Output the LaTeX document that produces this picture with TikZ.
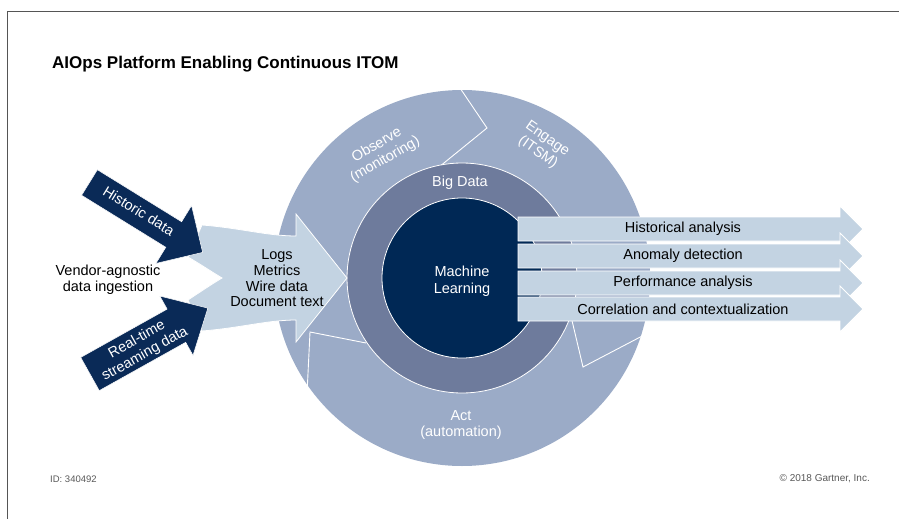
\documentclass[tikz,border=0pt]{standalone}
\usepackage{fontspec}
\setmainfont{Liberation Sans}
\definecolor{outerring}{HTML}{9BABC7}
\definecolor{midring}{HTML}{6E7B9C}
\definecolor{innerc}{HTML}{002855}
\definecolor{lightarr}{HTML}{C3D3E2}
\definecolor{darkarr}{HTML}{0A2A57}
\definecolor{framec}{HTML}{555555}
\definecolor{footc}{HTML}{595959}
\begin{document}
\begin{tikzpicture}[x=1pt,y=-1pt,
  lbl/.style={inner sep=0pt, align=center, font=\fontsize{14.5}{16}\selectfont},
  wlbl/.style={lbl, text=white},
  rlbl/.style={wlbl, font=\fontsize{14.5}{16.5}\selectfont},
  outarrow/.style={fill=lightarr, draw=white, line width=0.8pt},
  chevron/.style={draw=white, line width=0.9pt, line join=miter},
  foot/.style={inner sep=0pt, text=footc, font=\fontsize{9.5}{11}\selectfont}
]
\useasboundingbox (0,0) rectangle (899,519);
\fill[white] (0,0) rectangle (899,519);
% frame
\draw[framec, line width=1pt] (7,519) -- (7,12) -- (899,12);
% title
\node[inner sep=0pt, anchor=base west, font=\bfseries\fontsize{17}{20}\selectfont] (title) at (52,69) {AIOps Platform Enabling Continuous ITOM};

% outer ring
\fill[outerring] (462,278) circle[radius=188];
\draw[chevron] (460,88) -- (487,128) -- (439,167);
\draw[chevron] (646,334) -- (583,367) -- (567.6,302);
\draw[chevron] (307,394) -- (310,332) -- (366,343);
% middle ring and inner circle
\filldraw[fill=midring, draw=white, line width=0.8pt] (462,278) circle[radius=115];
\filldraw[fill=innerc, draw=white, line width=0.8pt] (462,278) circle[radius=80];

% ring labels
\node[rlbl, rotate=30] (observe) at (381,152.5) {Observe\\(monitoring)};
\node[rlbl, rotate=-35] (engage) at (542.5,146) {Engage\\(ITSM)};
\node[rlbl] (act) at (461,425) {Act\\(automation)};
\node[wlbl] (bigdata) at (460,183) {Big Data};
\node[rlbl] (ml) at (462,281) {Machine\\Learning};

% input light arrow
\filldraw[fill=lightarr, draw=white, line width=0.8pt]
  (202,225) .. controls (240,228) and (268,236) .. (296,236)
  -- (296,214) -- (347,278) -- (296,342) -- (296,320)
  .. controls (268,320) and (240,328) .. (202,331)
  -- (188,300) .. controls (200,292) and (212,284) .. (222,278)
  .. controls (212,272) and (200,264) .. (188,257) -- cycle;
\node[lbl, font=\fontsize{14.5}{15.7}\selectfont] (types) at (277,278.5) {Logs\\Metrics\\Wire data\\Document text};

% dark arrows
\begin{scope}[shift={(89.5,182.5)}, rotate=-31.7]
\filldraw[fill=darkarr, draw=white, line width=0.5pt] (0,-15) -- (99,-15) -- (99,-34) -- (133,0) -- (99,34) -- (99,15) -- (0,15) -- cycle;
\end{scope}
\node[wlbl, rotate=-31.7] (historic) at (139,211) {Historic data};
\begin{scope}[shift={(90,374)}, rotate=29.2]
\filldraw[fill=darkarr, draw=white, line width=0.5pt] (0,-19) -- (99,-19) -- (99,-34) -- (135,0) -- (99,34) -- (99,19) -- (0,19) -- cycle;
\end{scope}
\node[rlbl, rotate=29.2] (realtime) at (141,347) {Real-time\\streaming data};

\node[lbl] (vendor) at (108,279.5) {Vendor-agnostic\\data ingestion};

% output arrows
\foreach \c/\t/\n in {229/Historical analysis/o1, 256/Anomaly detection/o2, 283/Performance analysis/o3, 309/Correlation and contextualization/o4}{
  \filldraw[outarrow] (518,\c-12) -- (840,\c-12) -- (840,\c-23) -- (863,\c) -- (840,\c+23) -- (840,\c+12) -- (518,\c+12) -- cycle;
  \node[lbl] (\n) at (683,\c) {\t};
}

% footer
\node[foot, anchor=west] (id) at (50,479) {ID: 340492};
\node[foot, anchor=east, font=\fontsize{10}{12}\selectfont] (copy) at (870,479) {© 2018 Gartner, Inc.};
\end{tikzpicture}
\end{document}
